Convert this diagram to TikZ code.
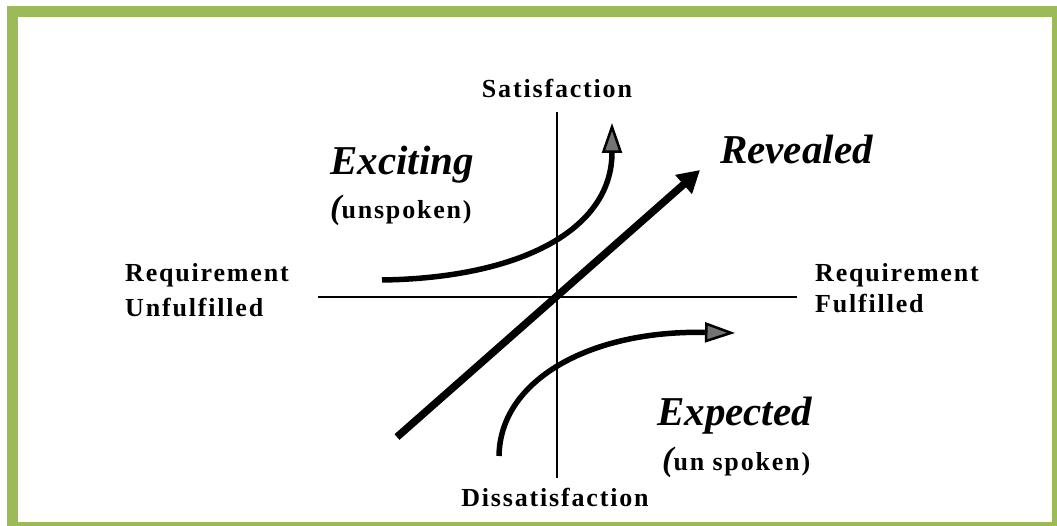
\documentclass[tikz,border=0pt]{standalone}
\usepackage{fontspec}
\setmainfont{Liberation Serif}
\usetikzlibrary{arrows.meta}
\definecolor{framegreen}{HTML}{9BBB59}
\newcommand{\bigparen}{{\fontsize{34}{30}\selectfont\itshape(}}
\begin{document}
\begin{tikzpicture}[x=1pt,y=-1pt,
  axis/.style={line width=2.8pt,black},
  curvearrow/.style={line width=5.5pt,black,
    -{Triangle[length=30pt,width=20pt,line width=2.5pt,fill=black!55]}},
  mainarrow/.style={line width=7.5pt,black,-{Triangle[length=22pt,width=24pt]}},
  axislabel/.style={inner sep=0pt,font=\fontsize{26}{30}\selectfont\bfseries\addfontfeatures{LetterSpace=7}},
  biglabel/.style={inner sep=0pt,font=\fontsize{41}{45}\selectfont\bfseries\itshape},
  sublabel/.style={inner sep=0pt,font=\fontsize{26}{30}\selectfont\bfseries\addfontfeatures{LetterSpace=7}}]
\useasboundingbox (0,0) rectangle (1057,526);
% frame
\draw[framegreen,line width=11pt] (12.5,12) rectangle (1057.5,527);

% axes
\coordinate (ytop) at (557,112);
\coordinate (ybot) at (557,478);
\coordinate (xl) at (318,297);
\coordinate (xr) at (797,297);
\draw[axis] (ytop) -- (ybot);
\draw[axis] (xl) -- (xr);

% axis labels
\node[axislabel,anchor=base] (sat) at (557,98) {Satisfaction};
\node[axislabel,anchor=base] (dis) at (555,506) {Dissatisfaction};
\node[axislabel,anchor=base west] (ru1) at (125,282) {Requirement};
\node[axislabel,anchor=base west] (ru2) at (125,317) {Unfulfilled};
\node[axislabel,anchor=base west] (rf1) at (815,282) {Requirement};
\node[axislabel,anchor=base west] (rf2) at (815,313) {Fulfilled};

% curves
\coordinate (exS) at (382,280);
\coordinate (exE) at (612,123);
\draw[curvearrow] (exS) .. controls (520,278) and (612,230) .. (exE);
\coordinate (epS) at (499,456);
\coordinate (epE) at (735,333);
\draw[curvearrow] (epS) .. controls (500,380) and (590,330) .. (epE);
\coordinate (rvS) at (397,437);
\coordinate (rvE) at (700,170);
\draw[mainarrow] (rvS) -- (rvE);

% category labels
\node[biglabel,anchor=base west] (exc) at (330,175) {Exciting};
\node[sublabel,anchor=base west] (excu) at (330,219) {\bigparen unspoken)};
\node[biglabel,anchor=base west] (rev) at (720,164) {Revealed};
\node[biglabel,anchor=base west] (exp) at (657,425) {Expected};
\node[sublabel,anchor=base west] (expu) at (662,470) {\bigparen un spoken)};
\end{tikzpicture}
\end{document}
